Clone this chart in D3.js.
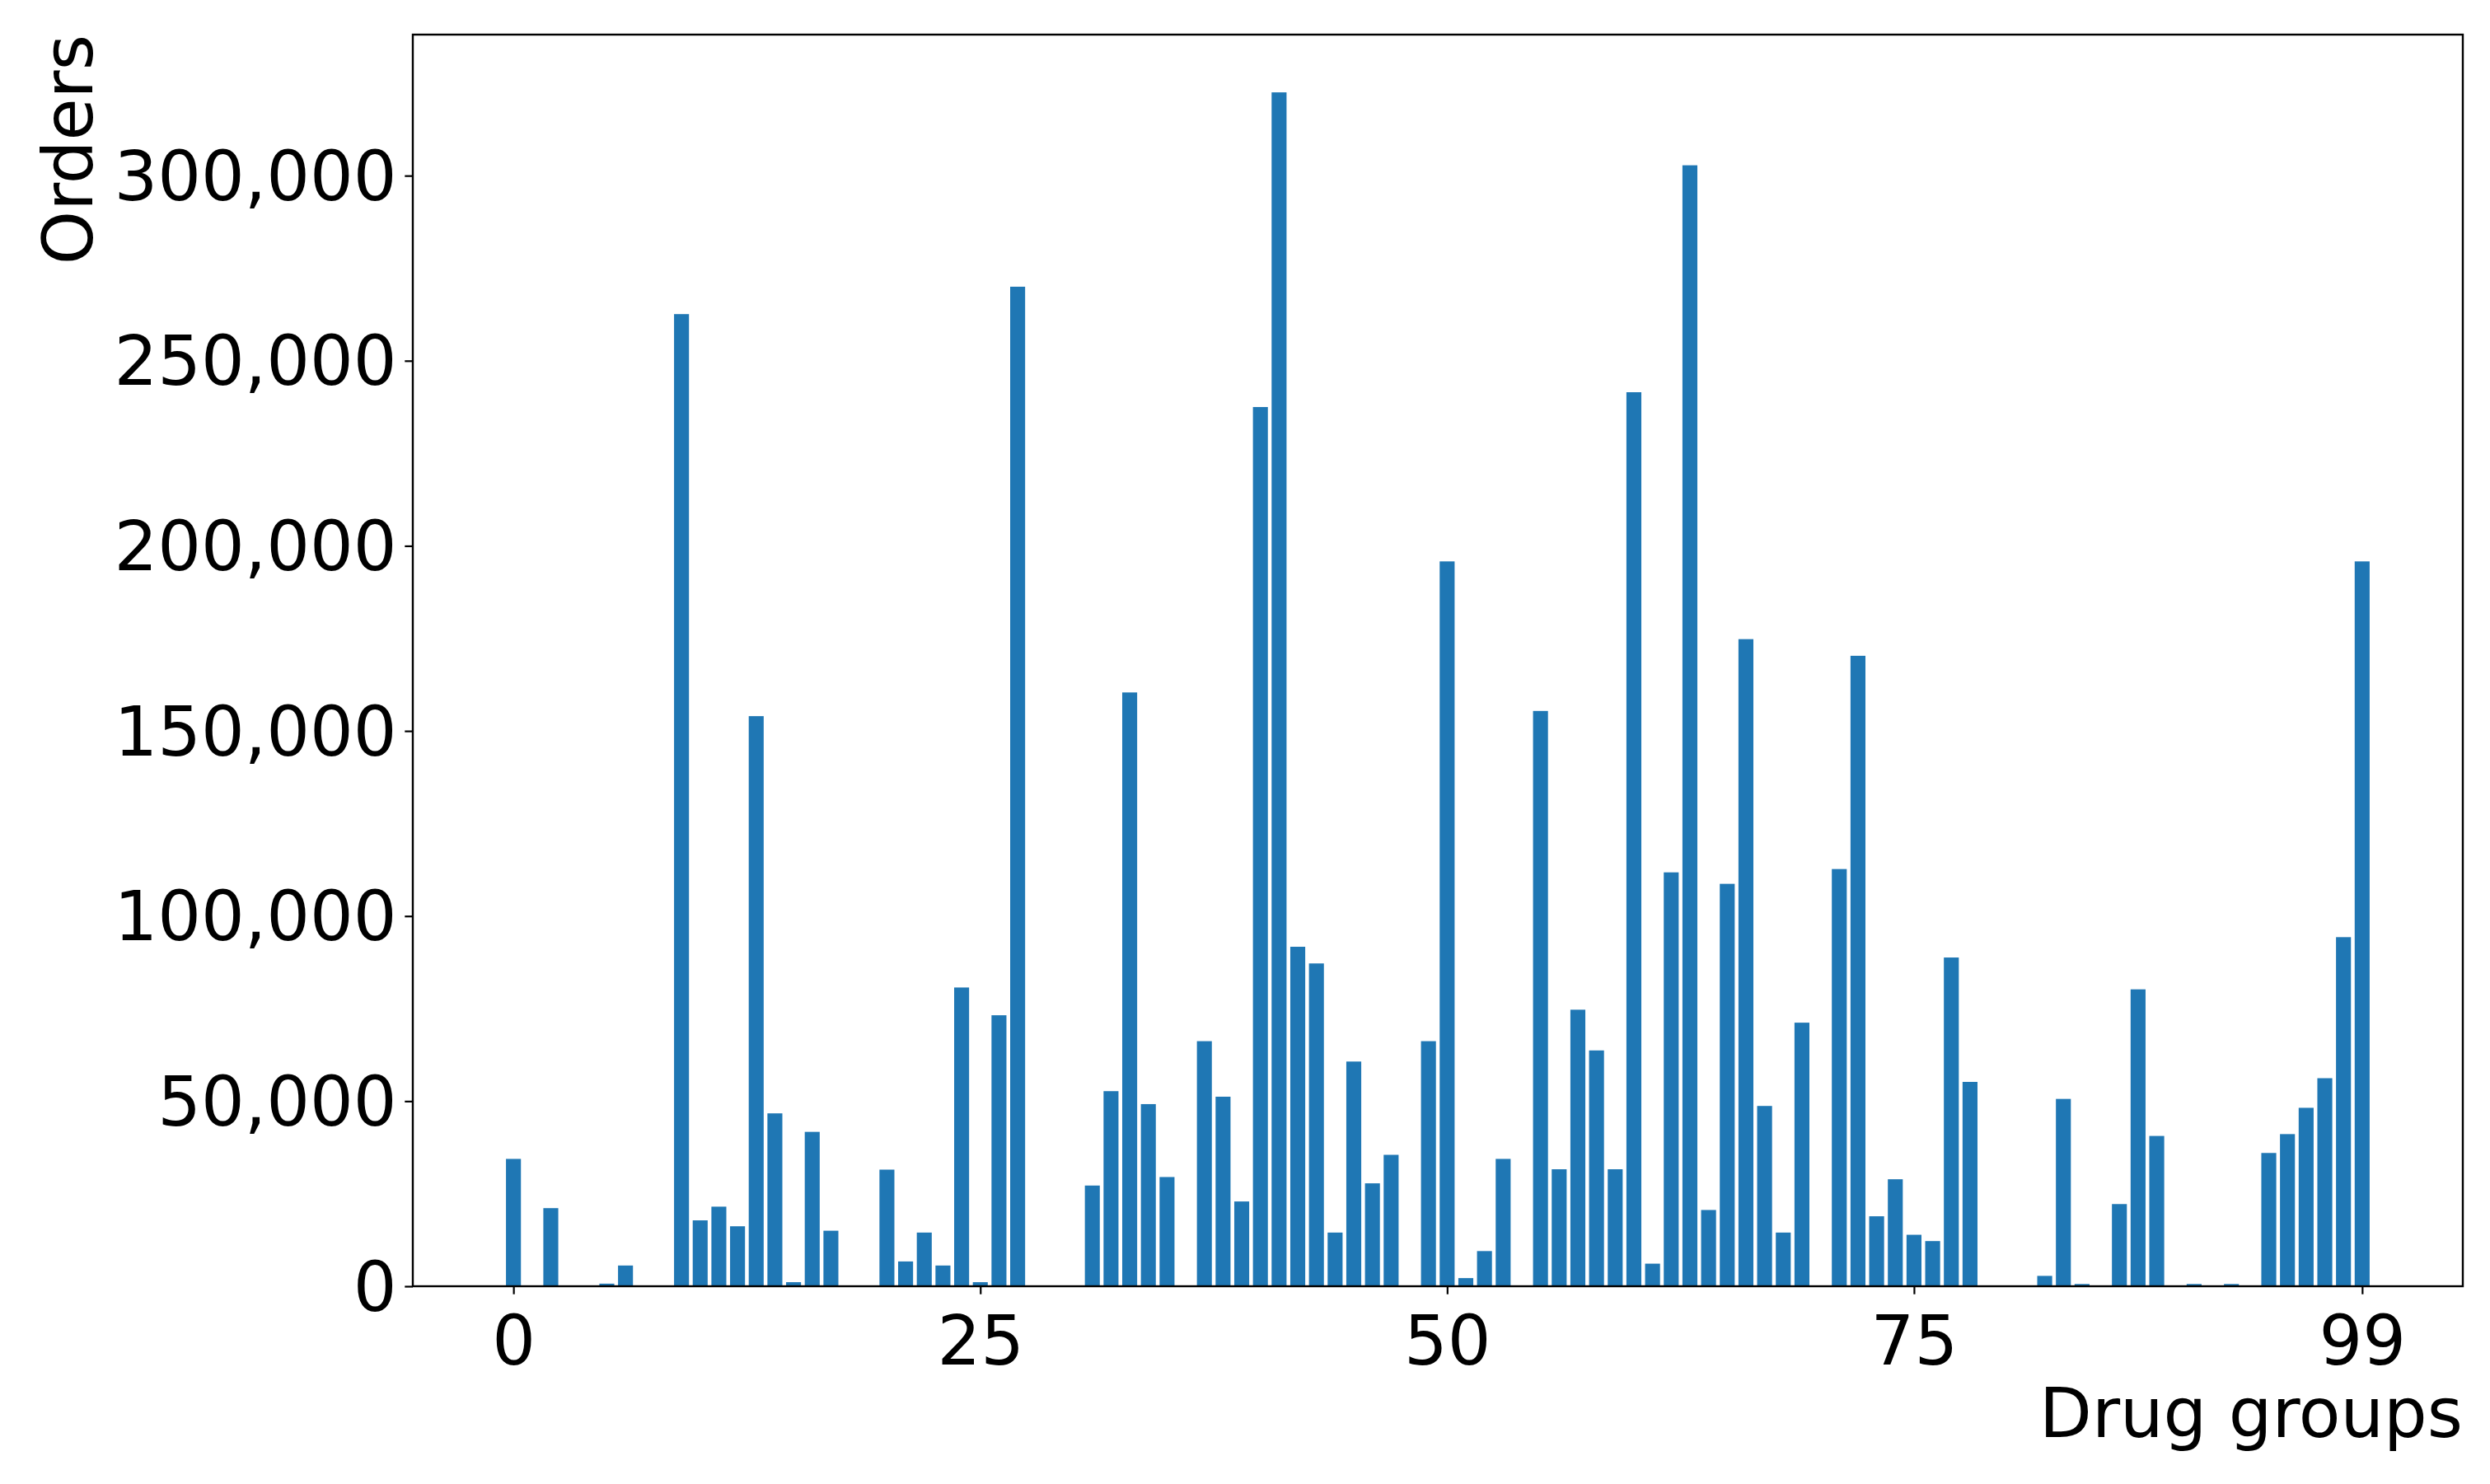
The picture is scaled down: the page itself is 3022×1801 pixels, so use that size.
<!DOCTYPE html>
<html>
<head>
<meta charset="utf-8">
<script src="https://cdn.jsdelivr.net/npm/d3@7"></script>
<style>
  html, body { margin: 0; padding: 0; background: #ffffff; }
  svg { display: block; }
  text { font-family: "DejaVu Sans", sans-serif; fill: #000; }
</style>
</head>
<body>
<svg id="chart" width="3022" height="1801"></svg>
<script>
// ---- data ----
const groups = d3.range(0, 100);
const orders = [
  34400, 0, 21100, 0, 0, 700, 5600, 0, 0, 262600,
  17800, 21500, 16200, 154000, 46700, 1100, 41700, 15000, 0, 0,
  31500, 6700, 14500, 5600, 80700, 1100, 73200, 270000, 0, 0,
  0, 27200, 52700, 160400, 49200, 29500, 0, 66200, 51200, 22900,
  237500, 322500, 91700, 87200, 14500, 60700, 27800, 35500, 0, 66200,
  195800, 2200, 9500, 34400, 0, 155400, 31600, 74700, 63700, 31600,
  241500, 6100, 111800, 302800, 20600, 108700, 174800, 48700, 14500, 71200,
  0, 112700, 170300, 18900, 28900, 13900, 12200, 88800, 55200, 0,
  0, 0, 2800, 50600, 600, 0, 22200, 80200, 40600, 0,
  600, 0, 600, 0, 36000, 41100, 48200, 56200, 94300, 195800
];
const xTicks = [0, 25, 50, 75, 99];
const yTicks = [0, 50000, 100000, 150000, 200000, 250000, 300000];
const xLabel = "Drug groups";
const yLabel = "Orders";

(function () {
// ---- layout ----
const pLeft = 501, pRight = 2989, pTop = 42, pBottom = 1561;
const fontSize = 83;
const tickLen = 9.7, tickPad = 9.7;
const barWidth = 0.8;
const color = "#1f77b4";

const svg = d3.select("#chart");

const xmin = -barWidth / 2, xmax = groups[groups.length - 1] + barWidth / 2;
const xm = (xmax - xmin) * 0.05;
const x = d3.scaleLinear().domain([xmin - xm, xmax + xm]).range([pLeft, pRight]);
const y = d3.scaleLinear().domain([0, 338100]).range([pBottom, pTop]);

// bars
svg.append("g")
  .selectAll("rect")
  .data(groups)
  .join("rect")
  .attr("x", d => x(d - barWidth / 2))
  .attr("width", d => x(d + barWidth / 2) - x(d - barWidth / 2))
  .attr("y", d => y(orders[d]))
  .attr("height", d => y(0) - y(orders[d]))
  .attr("fill", color);

// axes
const fmt = d3.format(",");
const xAxis = d3.axisBottom(x).tickValues(xTicks).tickSize(tickLen).tickPadding(tickPad).tickFormat(d3.format("d"));
const yAxis = d3.axisLeft(y).tickValues(yTicks).tickSize(tickLen).tickPadding(tickPad).tickFormat(fmt);

const gx = svg.append("g").attr("transform", `translate(0,${pBottom})`).call(xAxis);
const gy = svg.append("g").attr("transform", `translate(${pLeft},0)`).call(yAxis);

[gx, gy].forEach(g => {
  g.select(".domain").remove();
  g.selectAll(".tick line").attr("stroke", "#000").attr("stroke-width", 2.2);
  g.selectAll(".tick text")
    .style("font-family", "'DejaVu Sans', sans-serif")
    .style("font-size", fontSize + "px")
    .attr("fill", "#000");
});
gx.selectAll(".tick text").attr("dy", null)
  .attr("y", 1656 - pBottom);
gy.selectAll(".tick text").attr("dy", "0.35em");

// frame
svg.append("rect")
  .attr("x", pLeft).attr("y", pTop)
  .attr("width", pRight - pLeft).attr("height", pBottom - pTop)
  .attr("fill", "none").attr("stroke", "#000").attr("stroke-width", 2.4);

// axis labels
svg.append("text")
  .attr("x", pRight).attr("y", 1744)
  .attr("text-anchor", "end")
  .style("font-size", fontSize + "px")
  .text(xLabel);

svg.append("text")
  .attr("transform", `translate(112,${pTop}) rotate(-90)`)
  .attr("text-anchor", "end")
  .style("font-size", fontSize + "px")
  .text(yLabel);
})();
</script>
</body>
</html>
